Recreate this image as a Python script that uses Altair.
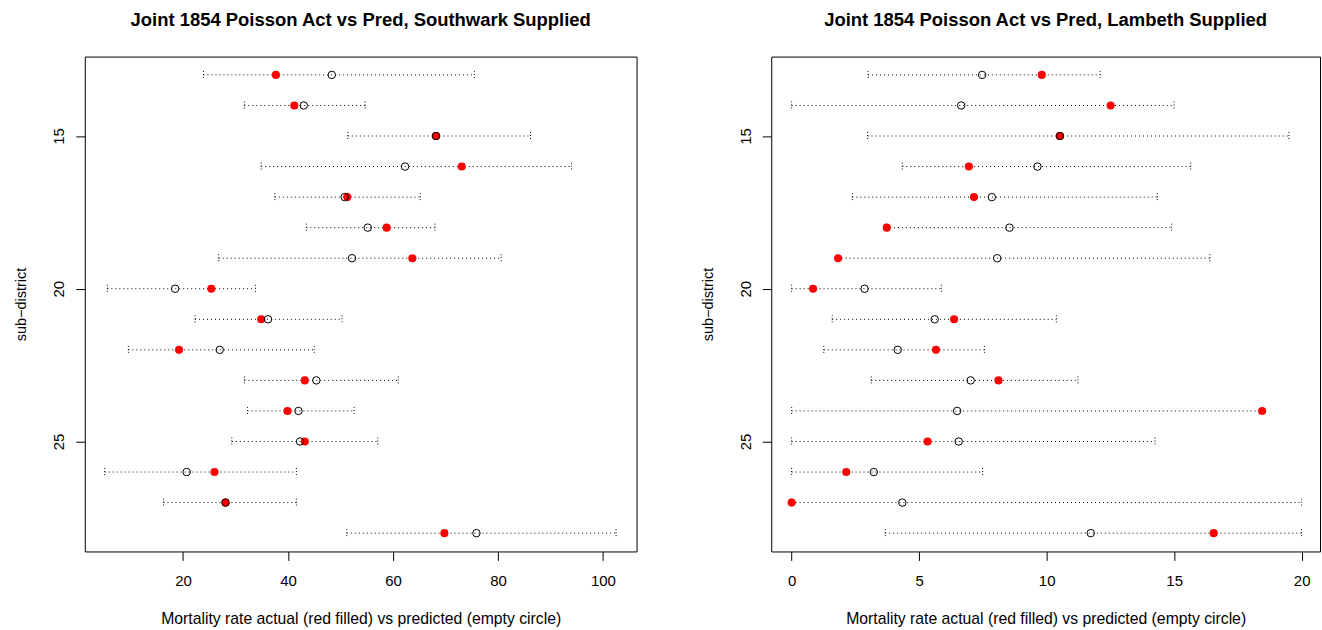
import altair as alt
import pandas as pd

districts = list(range(13, 29))

# Southwark supplied
s_actual = [37.7, 41.2, 68.2, 73.1, 51.3, 58.8, 63.7, 25.4, 34.9, 19.25, 43.2, 39.9, 43.2, 26.0, 28.1, 69.8]
s_pred = [48.35, 43.0, 68.2, 62.3, 50.8, 55.2, 52.2, 18.5, 36.2, 27.0, 45.4, 42.0, 42.3, 20.7, 28.1, 75.9]
s_lower = [23.9, 31.7, 51.4, 34.9, 37.5, 43.5, 26.8, 5.6, 22.3, 9.6, 31.7, 32.3, 29.3, 5.1, 16.3, 51.2]
s_upper = [75.5, 54.7, 86.2, 94.0, 65.2, 68.0, 80.6, 33.8, 50.3, 45.0, 61.0, 52.6, 57.1, 41.6, 41.6, 102.5]

# Lambeth supplied
l_actual = [9.81, 12.51, 10.52, 6.95, 7.15, 3.73, 1.82, 0.84, 6.37, 5.66, 8.11, 18.45, 5.33, 2.14, 0.0, 16.55]
l_pred = [7.47, 6.65, 10.52, 9.64, 7.85, 8.54, 8.06, 2.86, 5.61, 4.16, 7.02, 6.49, 6.55, 3.22, 4.34, 11.73]
l_lower = [3.0, 0.0, 2.98, 4.34, 2.38, 3.7, 1.8, 0.0, 1.59, 1.26, 3.12, 0.0, 0.0, 0.0, 0.0, 3.67]
l_upper = [12.1, 15.0, 19.5, 15.65, 14.34, 14.9, 16.4, 5.87, 10.38, 7.56, 11.23, 18.45, 14.25, 7.49, 20.0, 20.0]

s_ticks = [20, 40, 60, 80, 100]
l_ticks = [0, 5, 10, 15, 20]
y_ticks = [15, 20, 25]

X_TITLE = "Mortality rate actual (red filled) vs predicted (empty circle)"
Y_TITLE = "sub\u2212district"
FONT = "Liberation Sans"
PH = 496


def panel(title, actual, pred, lower, upper, domain, ticks, width):
    df = pd.DataFrame({"d": districts, "actual": actual, "pred": pred,
                       "lower": lower, "upper": upper})
    xs = alt.Scale(domain=domain, nice=False, zero=False)
    ys = alt.Scale(domain=[12.4, 28.6], reverse=True, nice=False, zero=False)
    xax = alt.Axis(values=ticks, title=X_TITLE, grid=False, domain=False,
                   tickSize=9, tickColor="black", labelPadding=13,
                   labelFontSize=15, titleFontSize=15.8, titlePadding=23,
                   labelColor="black", titleColor="black", titleFontWeight="normal",
                   labelFont=FONT, titleFont=FONT, format="d")
    yax = alt.Axis(values=y_ticks, title=Y_TITLE, grid=False, domain=False,
                   tickSize=9, tickColor="black", labelPadding=12,
                   labelAngle=270, labelAlign="center", labelBaseline="alphabetic",
                   labelFontSize=15, titleFontSize=14.5,
                   titleAngle=270, titleAlign="center", titleBaseline="alphabetic",
                   titleX=-59, titleY=PH / 2,
                   labelColor="black", titleColor="black", titleFontWeight="normal",
                   labelFont=FONT, titleFont=FONT, format="d")

    def X(f):
        return alt.X(f, type="quantitative", scale=xs, axis=xax)

    def Y():
        return alt.Y("d", type="quantitative", scale=ys, axis=yax)

    base = alt.Chart(df)
    line = base.mark_rule(color="black", strokeWidth=1, strokeDash=[1, 3]).encode(
        x=X("lower"), x2="upper", y=Y())
    cap_shape = "M0,-1L0,1"
    cap_l = base.mark_point(shape=cap_shape, size=64, stroke="black", strokeWidth=1,
                            strokeDash=[1, 2], opacity=1, filled=False).encode(x=X("lower"), y=Y())
    cap_u = base.mark_point(shape=cap_shape, size=64, stroke="black", strokeWidth=1,
                            strokeDash=[1, 2], opacity=1, filled=False).encode(x=X("upper"), y=Y())
    red = base.mark_point(shape="circle", filled=True, size=66, color="#FF0000",
                          opacity=1).encode(x=X("actual"), y=Y())
    opn = base.mark_point(shape="circle", filled=False, size=56, stroke="black",
                          strokeWidth=1, opacity=1).encode(x=X("pred"), y=Y())
    return alt.layer(line, cap_l, cap_u, red, opn).properties(
        width=width, height=PH,
        title=alt.TitleParams(title, fontSize=18.5, fontWeight="bold", font=FONT,
                              color="black", anchor="middle", baseline="alphabetic",
                              offset=12),
    )


left = panel("Joint 1854 Poisson Act vs Pred, Southwark Supplied",
             s_actual, s_pred, s_lower, s_upper, [1.3, 106.4], s_ticks, 553)
right = panel("Joint 1854 Poisson Act vs Pred, Lambeth Supplied",
              l_actual, l_pred, l_lower, l_upper, [-0.8, 20.72], l_ticks, 550)

chart = alt.hconcat(left, right, spacing=62).properties(
    padding={"left": 13, "top": 10, "right": 1, "bottom": 1},
    background="white",
).configure_view(stroke="black", strokeWidth=1)

chart.save("out.html", embed_options={"renderer": "svg", "actions": False})
